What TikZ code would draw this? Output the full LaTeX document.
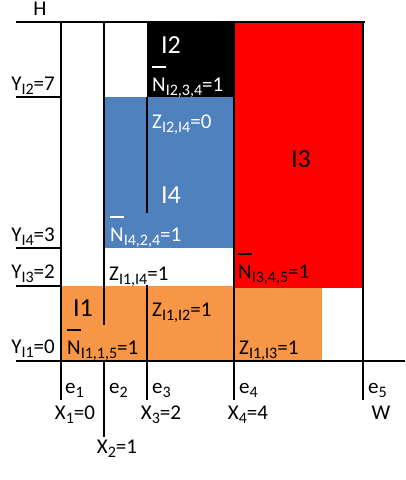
\documentclass[tikz,border=0pt]{standalone}
\usepackage{fontspec}
\setmainfont{Carlito}
\usetikzlibrary{positioning}

\definecolor{itemblue}{HTML}{4F81BD}
\definecolor{itemorange}{HTML}{F79646}
\definecolor{itemred}{HTML}{FF0000}

\newsavebox\nbarbox
\newcommand{\nbar}{\sbox\nbarbox{N}\rlap{\rule[1.1em]{\wd\nbarbox}{1.6pt}}N}
\newcommand{\lo}[1]{\raisebox{-0.22em}{\fontsize{16}{16}\selectfont #1}}

\begin{document}
\begin{tikzpicture}[
    x=1pt, y=-1pt,
    every node/.style={font=\fontsize{21}{24}\selectfont,inner sep=0pt},
    lbl/.style ={anchor=base west},
    ylbl/.style={anchor=base east},
    xlbl/.style={anchor=base},
    big/.style ={anchor=base,font=\fontsize{26}{30}\selectfont},
    wt/.style  ={text=white},
    edge/.style={line width=2.6pt},
  ]
  \useasboundingbox (0,0) rectangle (405,480);

  % Item rectangles
  \fill[itemorange] (61,286) rectangle (322,361);
  \fill[itemred]    (234,22) rectangle (363,288);
  \fill[itemblue]   (104,97) rectangle (234,248);
  \fill[black]      (147,22) rectangle (234,97);

  % Horizontal lines: top, levels, base
  \draw[edge] (16,22) -- (365,22);
  \draw[edge] (16,97) -- (61,97);
  \draw[edge] (16,248) -- (61,248);
  \draw[edge] (16,286) -- (61,286);
  \draw[edge] (16,361) -- (405,361);

  % Vertical lines e1..e5
  \draw[edge] (61,22) -- (61,400);
  \draw[edge] (104,22) -- (104,325) (104,361) -- (104,437);
  \draw[edge] (147,97) -- (147,213) (147,285) -- (147,400);
  \draw[edge] (234,22) -- (234,400);
  \draw[edge] (363,22) -- (363,400);

  % Item names
  \node[big,wt] (I2) at (171,53)  {I2};
  \node[big,wt] (I4) at (171,203) {I4};
  \node[big]    (I3) at (301,167) {I3};
  \node[big]    (I1) at (83,316)  {I1};

  % Variables inside the items
  \node[lbl,wt] (n2) at (152,91)  {\nbar\lo{I2,3,4}=1};
  \node[lbl,wt] (z24) at (152,128) {Z\lo{I2,I4}=0};
  \node[lbl,wt] (n4) at (110,241) {\nbar\lo{I4,2,4}=1};
  \node[lbl]    (z14) at (109,280) {Z\lo{I1,I4}=1};
  \node[lbl]    (n3) at (238,278) {\nbar\lo{I3,4,5}=1};
  \node[lbl]    (z12) at (152,316) {Z\lo{I1,I2}=1};
  \node[lbl]    (n1) at (67,354)  {\nbar\lo{I1,1,5}=1};
  \node[lbl]    (z13) at (239,354) {Z\lo{I1,I3}=1};

  % Height axis
  \node[xlbl] (H) at (40,15) {H};
  \node[ylbl] (y2) at (55,90)  {Y\lo{I2}=7};
  \node[ylbl] (y4) at (55,241) {Y\lo{I4}=3};
  \node[ylbl] (y3) at (55,278) {Y\lo{I3}=2};
  \node[ylbl] (y1) at (55,353) {Y\lo{I1}=0};

  % Width axis
  \node[lbl] (e1) at (65,393)  {e\lo{1}};
  \node[lbl] (e2) at (109,393) {e\lo{2}};
  \node[lbl] (e3) at (152,393) {e\lo{3}};
  \node[lbl] (e4) at (239,393) {e\lo{4}};
  \node[lbl] (e5) at (368,393) {e\lo{5}};
  \node[xlbl] (x1) at (75,419)  {X\lo{1}=0};
  \node[xlbl] (x2) at (117,453) {X\lo{2}=1};
  \node[xlbl] (x3) at (161,419) {X\lo{3}=2};
  \node[xlbl] (x4) at (248,419) {X\lo{4}=4};
  \node[xlbl] (W)  at (381,419) {W};
\end{tikzpicture}
\end{document}
